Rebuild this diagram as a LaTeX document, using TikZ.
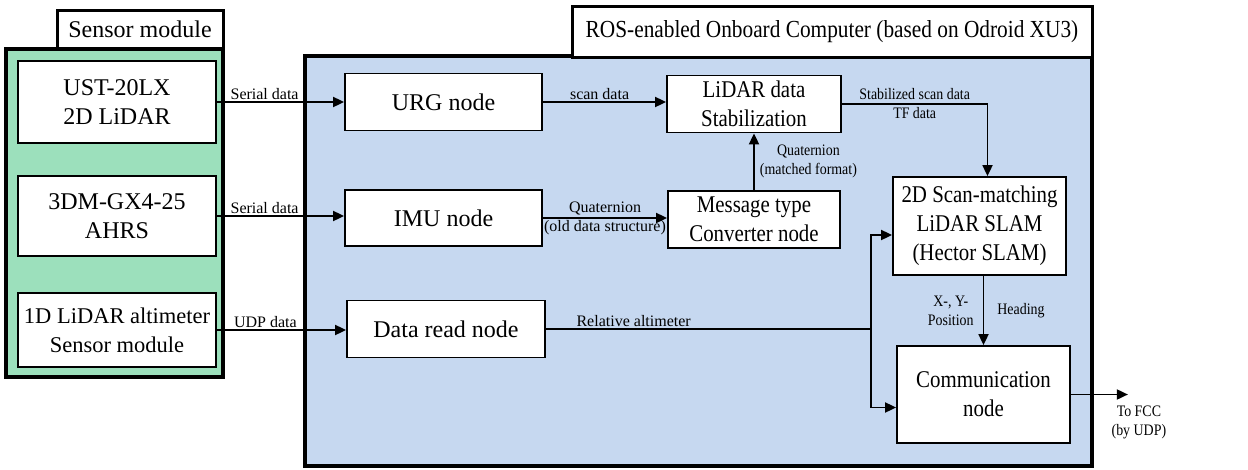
\documentclass[tikz,border=0pt]{standalone}
\usepackage{fontspec}
\setmainfont{Liberation Serif}
\newfontfamily\narrowserif{Liberation Serif}[FakeStretch=0.87]
\usetikzlibrary{arrows.meta,positioning,calc}
\definecolor{sensgreen}{HTML}{9CE0BC}
\definecolor{rosblue}{HTML}{C6D8F0}
\tikzset{
  blk/.style={draw, line width=1.8pt, fill=white, align=center, inner sep=2pt,
              font=\fontsize{24}{29}\selectfont},
  cblk/.style={blk, font=\narrowserif\fontsize{24}{29}\selectfont},
  grp/.style={draw, line width=3.6pt, inner sep=0pt},
  tag/.style={draw, line width=3pt, fill=white, inner sep=0pt,
              font=\fontsize{24}{29}\selectfont},
  lbl/.style={font=\fontsize{16}{19}\selectfont, align=center, inner sep=1pt},
  clbl/.style={lbl, font=\narrowserif\fontsize{16}{19}\selectfont},
  flow/.style={-{Triangle[length=11pt,width=10pt]}, line width=1.8pt},
  wire/.style={line width=1.8pt},
}

\begin{document}
\begin{tikzpicture}[x=1pt, y=-1pt]
  \useasboundingbox (0,0) rectangle (1248,469);
  % sensor module
  \node[grp, fill=sensgreen, minimum width=217pt, minimum height=328pt]
    (sens) at (114.5,213) {};
  \node[tag, minimum width=166pt, minimum height=38pt] (senstag) at (140,29)
    {Sensor module};
  \node[blk, minimum width=198pt, minimum height=82pt] (lidar) at (117,102)
    {UST-20LX\\2D LiDAR};
  \node[blk, minimum width=198pt, minimum height=80pt] (ahrs) at (117,216)
    {3DM-GX4-25\\AHRS};
  \node[blk, minimum width=198pt, minimum height=74pt,
        font=\fontsize{22.5}{29}\selectfont] (alti) at (117,330)
    {1D LiDAR altimeter\\Sensor module};
  % onboard computer
  \node[grp, fill=rosblue, minimum width=787pt, minimum height=410pt]
    (ros) at (698.5,261) {};
  \node[tag, font=\narrowserif\fontsize{24.5}{29}\selectfont,
        minimum width=520pt, minimum height=51pt] (rostag) at (832,31.5)
    {ROS-enabled Onboard Computer (based on Odroid XU3)};
  \node[blk, minimum width=197pt, minimum height=57pt] (urg) at (443.5,102)
    {URG node};
  \node[blk, minimum width=197pt, minimum height=56pt] (imu) at (443.5,218)
    {IMU node};
  \node[blk, minimum width=198pt, minimum height=57pt] (dread) at (446,329)
    {Data read node};
  \node[cblk, minimum width=174pt, minimum height=57pt] (stab) at (754,104)
    {LiDAR data\\Stabilization};
  \node[cblk, minimum width=172pt, minimum height=57pt] (conv) at (754,219.5)
    {Message type\\Converter node};
  \node[cblk, minimum width=173pt, minimum height=98pt] (slam) at (979.5,226)
    {2D Scan-matching\\LiDAR SLAM\\(Hector SLAM)};
  \node[cblk, minimum width=173pt, minimum height=97pt] (comm) at (983.5,394.5)
    {Communication\\node};
  % sensor links
  \draw[flow] (lidar.east) -- node[lbl, above, pos=0.375] {Serial data}
    (lidar.east -| urg.west);
  \draw[flow] (ahrs.east) -- node[lbl, above, pos=0.375] {Serial data}
    (ahrs.east -| imu.west);
  \draw[flow] (alti.east) -- node[lbl, above, pos=0.375] {UDP data}
    (alti.east -| dread.west);
  % internal flows
  \draw[flow] (urg.east) -- node[lbl, above, pos=0.46] {scan data}
    (urg.east -| stab.west);
  \draw[flow] (imu.east) -- node[lbl, midway] {Quaternion\\(old data structure)}
    (imu.east -| conv.west);
  \draw[flow] (conv.north) -- node[clbl, right=4pt, midway]
    {Quaternion\\(matched format)} (stab.south);
  \draw[flow] (stab.east) -| node[clbl, pos=0.25]
    {Stabilized scan data\\TF data} ([xshift=8pt]slam.north);
  \coordinate (split) at ($(dread.east)+(325,0)$);
  \draw[wire] (dread.east) -- node[lbl, above, pos=0.27] {Relative altimeter}
    (split);
  \draw[flow] (split) |- ([yshift=-9pt]slam.west);
  \draw[flow] (split) |- ([yshift=-13pt]comm.west);
  \draw[flow] (slam.south -| comm.north) --
    node[clbl, left=8pt] {X-, Y-\\Position}
    node[clbl, right=12pt] {Heading} (comm.north);
  \coordinate (fcc) at ($(comm.east)+(57,0)$);
  \draw[flow] (comm.east) -- (fcc)
    node[clbl, below=9pt, xshift=11pt] {To FCC\\(by UDP)};
\end{tikzpicture}
\end{document}
